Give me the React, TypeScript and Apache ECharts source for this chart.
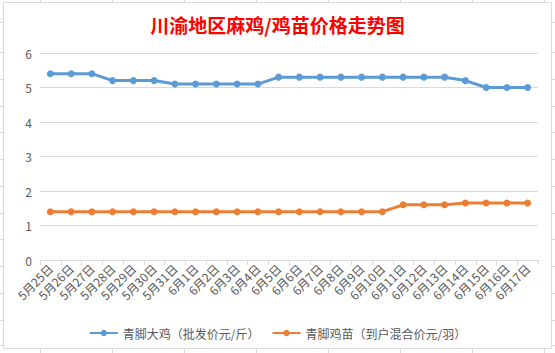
import React, { useEffect, useRef } from "react";
import * as echarts from "echarts";

const categories = [
  "5月25日", "5月26日", "5月27日", "5月28日", "5月29日", "5月30日", "5月31日",
  "6月1日", "6月2日", "6月3日", "6月4日", "6月5日", "6月6日", "6月7日", "6月8日",
  "6月9日", "6月10日", "6月11日", "6月12日", "6月13日", "6月14日", "6月15日",
  "6月16日", "6月17日",
];
const bigChicken = [
  5.4, 5.4, 5.4, 5.2, 5.2, 5.2, 5.1, 5.1, 5.1, 5.1, 5.1, 5.3, 5.3, 5.3, 5.3,
  5.3, 5.3, 5.3, 5.3, 5.3, 5.2, 5.0, 5.0, 5.0,
];
const chick = [
  1.4, 1.4, 1.4, 1.4, 1.4, 1.4, 1.4, 1.4, 1.4, 1.4, 1.4, 1.4, 1.4, 1.4, 1.4,
  1.4, 1.4, 1.6, 1.6, 1.6, 1.65, 1.65, 1.65, 1.65,
];
const seriesNames = ["青脚大鸡（批发价元/斤）", "青脚鸡苗（到户混合价元/羽）"];
const titleText = "川渝地区麻鸡/鸡苗价格走势图";

const FONT = "'Noto Sans CJK SC', 'Noto Sans', sans-serif";
const GRID = "#d9d9d9";

const sheetRows = [22, 52, 79, 106, 132, 159, 186, 213, 239, 266, 293, 320, 345];
const sheetCols = [40, 112, 184, 256, 328, 400, 472, 544];

export default function App() {
  const ref = useRef<HTMLDivElement>(null);
  useEffect(() => {
    if (!ref.current) return;
    const chart = echarts.init(ref.current, undefined, { renderer: "svg" });
    const deco: any[] = [
      {
        type: "rect",
        shape: { x: 3.5, y: 2.5, width: 548, height: 346 },
        style: { fill: "#fff", stroke: GRID, lineWidth: 1 },
        z: -10,
      },
    ];
    sheetRows.forEach((y) => {
      deco.push({ type: "line", shape: { x1: 0, y1: y + 0.5, x2: 3, y2: y + 0.5 }, style: { stroke: GRID, lineWidth: 1 }, z: -10 });
      deco.push({ type: "line", shape: { x1: 552, y1: y + 0.5, x2: 555, y2: y + 0.5 }, style: { stroke: GRID, lineWidth: 1 }, z: -10 });
    });
    sheetCols.forEach((x) => {
      deco.push({ type: "line", shape: { x1: x + 0.5, y1: 0, x2: x + 0.5, y2: 2 }, style: { stroke: GRID, lineWidth: 1 }, z: -10 });
      deco.push({ type: "line", shape: { x1: x + 0.5, y1: 349, x2: x + 0.5, y2: 353 }, style: { stroke: GRID, lineWidth: 1 }, z: -10 });
    });
    chart.setOption({
      animation: false,
      backgroundColor: "#fff",
      graphic: deco,
      title: {
        text: titleText,
        left: "center",
        top: 10,
        textStyle: { color: "#ff0000", fontSize: 19, fontWeight: "bold", fontFamily: FONT },
      },
      legend: {
        bottom: 9,
        left: "center",
        itemWidth: 28,
        itemHeight: 8,
        itemGap: 12,
        textStyle: { color: "#595959", fontSize: 12, fontFamily: FONT },
        data: seriesNames,
      },
      grid: { left: 40, right: 17, top: 53, bottom: 93, containLabel: false },
      xAxis: {
        type: "category",
        data: categories,
        boundaryGap: true,
        axisLine: { lineStyle: { color: GRID, width: 1 } },
        axisTick: { show: true, length: 5, lineStyle: { color: GRID } },
        axisLabel: {
          rotate: 45,
          interval: 0,
          color: "#595959",
          fontSize: 12,
          fontFamily: FONT,
          margin: 6,
        },
      },
      yAxis: {
        type: "value",
        min: 0,
        max: 6,
        interval: 1,
        axisLine: { show: false },
        axisTick: { show: false },
        splitLine: { lineStyle: { color: GRID, width: 1 } },
        axisLabel: { color: "#595959", fontSize: 12, fontFamily: FONT, margin: 8 },
      },
      series: [
        {
          name: seriesNames[0],
          type: "line",
          data: bigChicken,
          symbol: "circle",
          symbolSize: 7,
          itemStyle: { color: "#5b9bd5" },
          lineStyle: { color: "#5b9bd5", width: 3 },
        },
        {
          name: seriesNames[1],
          type: "line",
          data: chick,
          symbol: "circle",
          symbolSize: 7,
          itemStyle: { color: "#ed7d31" },
          lineStyle: { color: "#ed7d31", width: 3 },
        },
      ],
    });
    return () => chart.dispose();
  }, []);
  return (
    <div
      ref={ref}
      style={{ position: "fixed", left: 0, top: 0, width: 555, height: 353 }}
    />
  );
}
